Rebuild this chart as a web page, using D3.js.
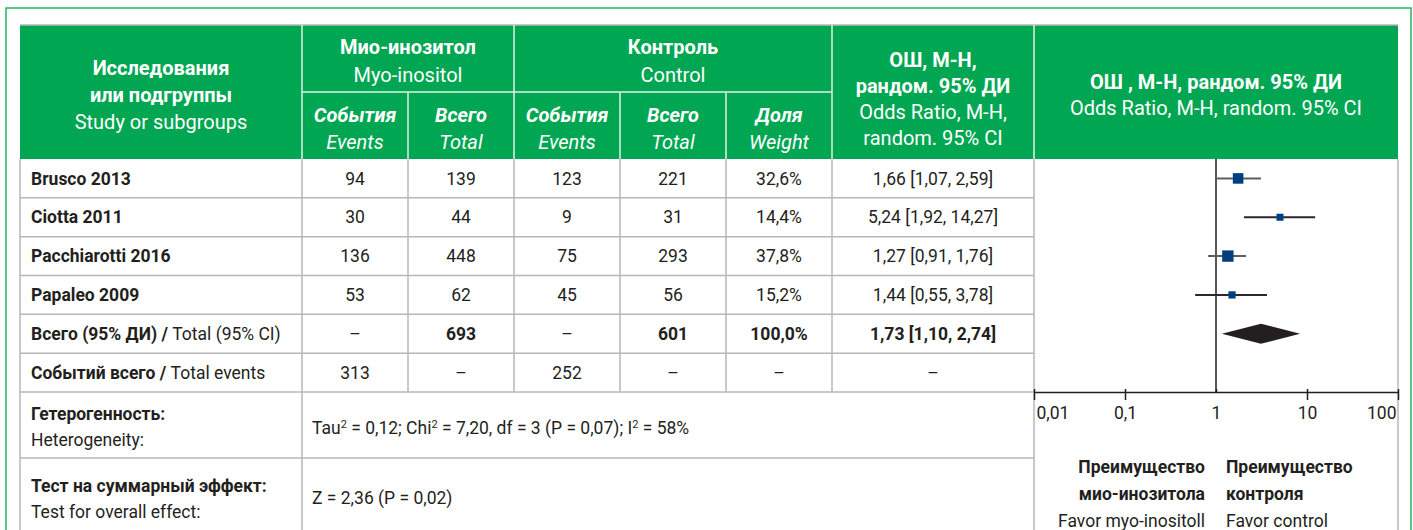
<!DOCTYPE html>
<html>
<head>
<meta charset="utf-8">
<script src="https://cdn.jsdelivr.net/npm/d3@7"></script>
<style>
  body { margin: 0; background: #fff; }
  svg text { font-family: Roboto, "Noto Sans", sans-serif; }
</style>
</head>
<body>
<div id="wrapper"></div>
<script>
// data
const studies = ["Brusco 2013", "Ciotta 2011", "Pacchiarotti 2016", "Papaleo 2009"];
const myoEvents = [94, 30, 136, 53];
const myoTotal = [139, 44, 448, 62];
const ctrlEvents = [123, 9, 75, 45];
const ctrlTotal = [221, 31, 293, 56];
const weights = [32.6, 14.4, 37.8, 15.2];
const orLabels = ["1,66 [1,07, 2,59]", "5,24 [1,92, 14,27]", "1,27 [0,91, 1,76]", "1,44 [0,55, 3,78]"];
const totalN = [693, 601];
const totalEvents = [313, 252];
const pooledLabel = "1,73 [1,10, 2,74]";

// marks as drawn in the picture
const orPoint = [1.75, 5.05, 1.35, 1.5];
const ciLow = [1.0, 2.03, 0.82, 0.59];
const ciHigh = [3.12, 12.3, 2.14, 3.63];
const pooledPlot = [1.16, 3.12, 8.4]; // low, estimate, high

const axisTicks = [0.01, 0.1, 1, 10, 100];
const tickLabels = ["0,01", "0,1", "1", "10", "100"];

const fmt = d3.formatLocale({ decimal: ",", thousands: " ", grouping: [3], currency: ["", ""] });
const pct = (v) => fmt.format(".1f")(v) + "%";

// dimensions
const width = 1413, height = 530;
const green = "#00a651", gridGrey = "#b7b7b7", ink = "#231f20";
const cols = [20, 302, 408, 514, 620, 726, 832, 1034, 1398];
const headTop = 25, headMid = 92, headBottom = 159, bodyBottom = 392, hetBottom = 458;
const bodySize = "17.5px", headSize = "20px";
const mid = (a, b) => (a + b) / 2;

const svg = d3.select("#wrapper").append("svg")
  .attr("width", width).attr("height", height);

// outer green frame
svg.append("rect")
  .attr("x", 6).attr("y", 8).attr("width", 1405).attr("height", 560)
  .attr("fill", "none").attr("stroke", "#27b261").attr("stroke-width", 1.5);

// header
svg.append("rect")
  .attr("x", cols[0]).attr("y", headTop)
  .attr("width", cols[8] - cols[0]).attr("height", headBottom - headTop)
  .attr("fill", green);
svg.append("line")
  .attr("x1", cols[0]).attr("x2", cols[8]).attr("y1", headTop).attr("y2", headTop)
  .attr("stroke", gridGrey).attr("stroke-width", 1.5);

const headLines = svg.append("g").attr("stroke", "#dff2e6").attr("stroke-width", 1.5);
[1, 3, 6, 7].forEach((c) => headLines.append("line")
  .attr("x1", cols[c]).attr("x2", cols[c]).attr("y1", headTop).attr("y2", headBottom));
[2, 4, 5].forEach((c) => headLines.append("line")
  .attr("x1", cols[c]).attr("x2", cols[c]).attr("y1", headMid).attr("y2", headBottom));
headLines.append("line")
  .attr("x1", cols[1]).attr("x2", cols[6]).attr("y1", headMid).attr("y2", headMid);

function headText(x, y, str, weight, style) {
  svg.append("text")
    .attr("x", x).attr("y", y).attr("dy", "0.35em")
    .attr("text-anchor", "middle")
    .attr("fill", "#fff")
    .style("font-size", headSize)
    .style("font-weight", weight || "normal")
    .style("font-style", style || "normal")
    .text(str);
}
headText(mid(cols[0], cols[1]), 68, "Исследования", "bold");
headText(mid(cols[0], cols[1]), 95, "или подгруппы", "bold");
headText(mid(cols[0], cols[1]), 122, "Study or subgroups");
headText(mid(cols[1], cols[3]), 47, "Мио-инозитол", "bold");
headText(mid(cols[1], cols[3]), 75, "Myo-inositol");
headText(mid(cols[3], cols[6]), 47, "Контроль", "bold");
headText(mid(cols[3], cols[6]), 75, "Control");
const subHeads = [["События", "Events"], ["Всего", "Total"], ["События", "Events"], ["Всего", "Total"], ["Доля", "Weight"]];
subHeads.forEach(([ru, en], i) => {
  headText(mid(cols[i + 1], cols[i + 2]), 115, ru, "bold", "italic");
  headText(mid(cols[i + 1], cols[i + 2]), 142, en, "normal", "italic");
});
headText(mid(cols[6], cols[7]), 60, "ОШ, М-Н,", "bold");
headText(mid(cols[6], cols[7]), 86, "рандом. 95% ДИ", "bold");
headText(mid(cols[6], cols[7]), 112, "Odds Ratio, M-H,");
headText(mid(cols[6], cols[7]), 138, "random. 95% CI");
headText(mid(cols[7], cols[8]), 82, "ОШ , М-Н, рандом. 95% ДИ", "bold");
headText(mid(cols[7], cols[8]), 108, "Odds Ratio, M-H, random. 95% CI");

// body rows
const rowBold = [...studies, "Всего (95% ДИ) /", "Событий всего /"];
const rowRegular = ["", "", "", "", "Total (95% CI)", "Total events"];
const yBand = d3.scaleBand().domain(d3.range(rowBold.length)).range([headBottom, bodyBottom]);
const yc = (i) => yBand(i) + yBand.bandwidth() / 2;

const grid = svg.append("g").attr("stroke", gridGrey).attr("stroke-width", 1.5);
d3.range(1, rowBold.length).forEach((i) => grid.append("line")
  .attr("x1", cols[0]).attr("x2", cols[7]).attr("y1", yBand(i)).attr("y2", yBand(i)));
[bodyBottom, hetBottom].forEach((y) => grid.append("line")
  .attr("x1", cols[0]).attr("x2", cols[7]).attr("y1", y).attr("y2", y));
[2, 3, 4, 5, 6].forEach((c) => grid.append("line")
  .attr("x1", cols[c]).attr("x2", cols[c]).attr("y1", headBottom).attr("y2", bodyBottom));
[0, 1, 7, 8].forEach((c) => grid.append("line")
  .attr("x1", cols[c]).attr("x2", cols[c]).attr("y1", headBottom).attr("y2", height));

const labels = svg.append("g").selectAll("text").data(rowBold).join("text")
  .attr("x", cols[0] + 11).attr("y", (d, i) => yc(i)).attr("dy", "0.35em")
  .attr("fill", ink).style("font-size", bodySize);
labels.append("tspan").style("font-weight", "bold").text((d) => d);
labels.append("tspan").text((d, i) => (rowRegular[i] ? "\u00a0" + rowRegular[i] : ""));

const dash = "–";
const columnsData = [
  [...myoEvents, dash, totalEvents[0]],
  [...myoTotal, totalN[0], dash],
  [...ctrlEvents, dash, totalEvents[1]],
  [...ctrlTotal, totalN[1], dash],
  [...weights.map(pct), pct(d3.sum(weights)), dash],
  [...orLabels, pooledLabel, dash],
];
columnsData.forEach((vals, c) => {
  svg.append("g").selectAll("text").data(vals).join("text")
    .attr("x", mid(cols[c + 1], cols[c + 2]))
    .attr("y", (d, i) => yc(i)).attr("dy", "0.35em")
    .attr("text-anchor", "middle")
    .attr("fill", ink)
    .style("font-size", bodySize)
    .style("font-weight", (d, i) => (i === 4 && d !== dash ? "bold" : "normal"))
    .text((d) => d);
});

// heterogeneity & overall effect
function leftText(x, y, str, weight) {
  return svg.append("text").attr("x", x).attr("y", y).attr("dy", "0.35em")
    .attr("fill", ink).style("font-size", bodySize).style("font-weight", weight || "normal").text(str);
}
leftText(cols[0] + 11, 414, "Гетерогенность:", "bold");
leftText(cols[0] + 11, 440, "Heterogeneity:");
leftText(cols[0] + 11, 486, "Тест на суммарный эффект:", "bold");
leftText(cols[0] + 11, 512, "Test for overall effect:");

const het = svg.append("text").attr("x", cols[1] + 10).attr("y", 434)
  .attr("fill", ink).style("font-size", bodySize);
const hetParts = ["Tau", " = 0,12; Chi", " = 7,20, df = 3 (P = 0,07); I", " = 58%"];
hetParts.forEach((t, i) => {
  het.append("tspan").attr("dy", i === 0 ? null : 6).text(t);
  if (i < hetParts.length - 1) {
    het.append("tspan").attr("dy", -6).style("font-size", "11px").text("2");
  }
});
leftText(cols[1] + 10, 498, "Z = 2,36 (P = 0,02)");

// forest plot
const xScale = d3.scaleLog().domain([0.01, 100]).range([cols[7], cols[8]]);
const sizeScale = d3.scaleSqrt().domain([0, 100]).range([0, 18.5]);
const plot = svg.append("g");

plot.append("line")
  .attr("x1", xScale(1)).attr("x2", xScale(1))
  .attr("y1", headBottom).attr("y2", bodyBottom)
  .attr("stroke", ink).attr("stroke-width", 1.5);

const studyG = plot.selectAll("g.study").data(studies).join("g").attr("class", "study");
studyG.append("line")
  .attr("x1", (d, i) => xScale(ciLow[i])).attr("x2", (d, i) => xScale(ciHigh[i]))
  .attr("y1", (d, i) => yc(i)).attr("y2", (d, i) => yc(i))
  .attr("stroke", (d, i) => (i % 2 === 0 ? "#5e5e5e" : "#2a2a2a")).attr("stroke-width", 2);
studyG.append("rect")
  .attr("x", (d, i) => xScale(orPoint[i]) - sizeScale(weights[i]) / 2)
  .attr("y", (d, i) => yc(i) - sizeScale(weights[i]) / 2)
  .attr("width", (d, i) => sizeScale(weights[i]))
  .attr("height", (d, i) => sizeScale(weights[i]))
  .attr("fill", "#003f7f");

const dy0 = yc(4);
plot.append("path")
  .attr("d", `M${xScale(pooledPlot[0])},${dy0} L${xScale(pooledPlot[1])},${dy0 - 10} L${xScale(pooledPlot[2])},${dy0} L${xScale(pooledPlot[1])},${dy0 + 10} Z`)
  .attr("fill", ink);

const xAxis = plot.append("g")
  .attr("transform", `translate(0, ${bodyBottom})`)
  .call(d3.axisBottom(xScale).tickValues(axisTicks)
    .tickFormat((d, i) => tickLabels[i]).tickSize(8).tickSizeOuter(0));
xAxis.select(".domain").attr("stroke", ink).attr("stroke-width", 1.5);
xAxis.selectAll(".tick line").attr("y1", -3).attr("stroke", ink).attr("stroke-width", 1.5)
  .attr("y2", (d) => (d === 1 ? 0 : 8));
xAxis.selectAll(".tick text")
  .attr("y", 21).attr("dy", "0.35em")
  .attr("fill", ink)
  .style("font-size", bodySize)
  .style("font-family", "Roboto, sans-serif")
  .attr("text-anchor", (d, i) => (i === 0 ? "start" : i === axisTicks.length - 1 ? "end" : "middle"))
  .attr("dx", (d, i) => (i === 0 ? 2 : i === axisTicks.length - 1 ? -2 : 0));

// favour labels
const favour = [
  { x: xScale(1) - 11, anchor: "end", lines: ["Преимущество", "мио-инозитола", "Favor myo-inositoll"] },
  { x: xScale(1) + 10, anchor: "start", lines: ["Преимущество", "контроля", "Favor control"] },
];
favour.forEach((f) => {
  f.lines.forEach((t, j) => {
    svg.append("text")
      .attr("x", f.x).attr("y", 467 + j * 27).attr("dy", "0.35em")
      .attr("text-anchor", f.anchor)
      .attr("fill", ink)
      .style("font-size", bodySize)
      .style("font-weight", j < 2 ? "bold" : "normal")
      .text(t);
  });
});
</script>
</body>
</html>
